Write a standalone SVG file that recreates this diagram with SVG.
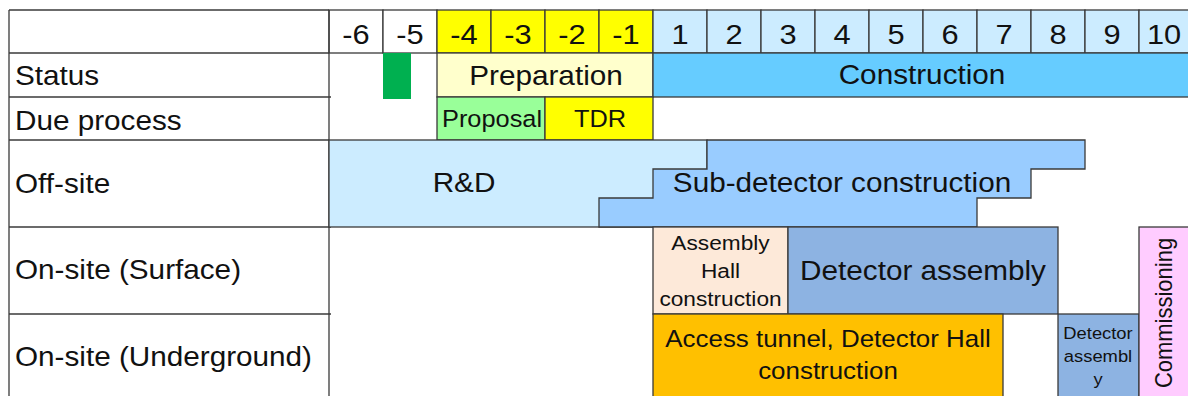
<svg xmlns="http://www.w3.org/2000/svg" width="1188" height="396" viewBox="0 0 1188 396">
  <style>
    .box { stroke: #3a3a3a; stroke-width: 1.3; }
    .line { stroke: #3a3a3a; stroke-width: 1.3; fill: none; }
    text { font-family: "Liberation Sans", Arial, sans-serif; fill: #111; }
    .big { font-size: 27.5px; }
    .hdr { font-size: 28.5px; text-anchor: middle; }
    .mid { text-anchor: middle; }
  </style>

  <rect x="0" y="0" width="1188" height="396" fill="#ffffff"/>

  <!-- header row: year columns -->
  <g id="header">
    <rect class="box" x="329" y="10" width="54" height="43" fill="#ffffff"/>
    <rect class="box" x="383" y="10" width="54" height="43" fill="#ffffff"/>
    <rect class="box" x="437" y="10" width="54" height="43" fill="#ffff00"/>
    <rect class="box" x="491" y="10" width="54" height="43" fill="#ffff00"/>
    <rect class="box" x="545" y="10" width="54" height="43" fill="#ffff00"/>
    <rect class="box" x="599" y="10" width="54" height="43" fill="#ffff00"/>
    <rect class="box" x="653" y="10" width="54" height="43" fill="#ccecff"/>
    <rect class="box" x="707" y="10" width="54" height="43" fill="#ccecff"/>
    <rect class="box" x="761" y="10" width="54" height="43" fill="#ccecff"/>
    <rect class="box" x="815" y="10" width="54" height="43" fill="#ccecff"/>
    <rect class="box" x="869" y="10" width="54" height="43" fill="#ccecff"/>
    <rect class="box" x="923" y="10" width="54" height="43" fill="#ccecff"/>
    <rect class="box" x="977" y="10" width="54" height="43" fill="#ccecff"/>
    <rect class="box" x="1031" y="10" width="54" height="43" fill="#ccecff"/>
    <rect class="box" x="1085" y="10" width="54" height="43" fill="#ccecff"/>
    <rect class="box" x="1139" y="10" width="60" height="43" fill="#ccecff"/>
    <text class="hdr" transform="translate(356,44) scale(1.08,1)">-6</text>
    <text class="hdr" transform="translate(410,44) scale(1.08,1)">-5</text>
    <text class="hdr" transform="translate(464,44) scale(1.08,1)">-4</text>
    <text class="hdr" transform="translate(518,44) scale(1.08,1)">-3</text>
    <text class="hdr" transform="translate(572,44) scale(1.08,1)">-2</text>
    <text class="hdr" transform="translate(626,44) scale(1.08,1)">-1</text>
    <text class="hdr" transform="translate(680,44) scale(1.08,1)">1</text>
    <text class="hdr" transform="translate(734,44) scale(1.08,1)">2</text>
    <text class="hdr" transform="translate(788,44) scale(1.08,1)">3</text>
    <text class="hdr" transform="translate(842,44) scale(1.08,1)">4</text>
    <text class="hdr" transform="translate(896,44) scale(1.08,1)">5</text>
    <text class="hdr" transform="translate(950,44) scale(1.08,1)">6</text>
    <text class="hdr" transform="translate(1004,44) scale(1.08,1)">7</text>
    <text class="hdr" transform="translate(1058,44) scale(1.08,1)">8</text>
    <text class="hdr" transform="translate(1112,44) scale(1.08,1)">9</text>
    <text class="hdr" transform="translate(1164,44) scale(1.08,1)">10</text>
  </g>

  <!-- row labels and table frame -->
  <g id="grid">
    <line class="line" x1="9" y1="10" x2="329" y2="10"/>
    <line class="line" x1="9" y1="10" x2="9" y2="396"/>
    <line class="line" x1="329" y1="10" x2="329" y2="396"/>
    <line class="line" x1="9" y1="53" x2="329" y2="53"/>
    <line class="line" x1="9" y1="97" x2="331" y2="97"/>
    <line class="line" x1="9" y1="140" x2="329" y2="140"/>
    <line class="line" x1="9" y1="227" x2="331" y2="227"/>
    <line class="line" x1="9" y1="314" x2="331" y2="314"/>
  </g>
  <g id="labels">
    <text class="big" transform="translate(15,85) scale(1.08,1)">Status</text>
    <text class="big" transform="translate(15,130) scale(1.08,1)">Due process</text>
    <text class="big" transform="translate(15,193) scale(1.08,1)">Off-site</text>
    <text class="big" transform="translate(15,279) scale(1.08,1)">On-site (Surface)</text>
    <text class="big" transform="translate(15,366) scale(1.08,1)">On-site (Underground)</text>
  </g>

  <!-- status row -->
  <g id="milestone">
    <rect x="383" y="53" width="28" height="46" fill="#00b050"/>
  </g>
  <g id="preparation">
    <rect class="box" x="437" y="53" width="216" height="44" fill="#ffffcc"/>
    <text class="big mid" transform="translate(546,85) scale(1.08,1)">Preparation</text>
  </g>
  <g id="construction">
    <rect class="box" x="653" y="53" width="545" height="44" fill="#66ccff"/>
    <text class="big mid" transform="translate(922,84) scale(1.08,1)">Construction</text>
  </g>

  <!-- due process row -->
  <g id="proposal">
    <rect class="box" x="437" y="97" width="108" height="43" fill="#99ff99"/>
    <text class="mid" font-size="23.5" transform="translate(492,127) scale(1.08,1)">Proposal</text>
  </g>
  <g id="tdr">
    <rect class="box" x="545" y="97" width="108" height="43" fill="#ffff00"/>
    <text class="mid" font-size="23.5" transform="translate(600,127) scale(1.08,1)">TDR</text>
  </g>

  <!-- off-site row -->
  <g id="rnd">
    <rect class="box" x="329" y="140" width="378" height="87" fill="#ccecff"/>
    <text class="big mid" transform="translate(464,192) scale(1.08,1)">R&amp;D</text>
  </g>
  <g id="subdetector">
    <polygon class="box" fill="#99ccff" points="707,140 1085,140 1085,169 1031,169 1031,198 977,198 977,227 599,227 599,198 653,198 653,169 707,169"/>
    <text class="big mid" transform="translate(842,192) scale(1.08,1)">Sub-detector construction</text>
  </g>

  <!-- on-site surface row -->
  <g id="assembly-hall">
    <rect class="box" x="653" y="227" width="135" height="87" fill="#fde9d9"/>
    <text class="mid" font-size="21" transform="translate(720.5,249.5) scale(1.08,1)">Assembly</text>
    <text class="mid" font-size="21" transform="translate(720.5,277.5) scale(1.08,1)">Hall</text>
    <text class="mid" font-size="21" transform="translate(720.5,305.5) scale(1.08,1)">construction</text>
  </g>
  <g id="detector-assembly">
    <rect class="box" x="788" y="227" width="270" height="87" fill="#8db3e2"/>
    <text class="big mid" transform="translate(923,280) scale(1.08,1)">Detector assembly</text>
  </g>

  <!-- on-site underground row -->
  <g id="access-tunnel">
    <rect class="box" x="653" y="314" width="350" height="90" fill="#ffc000"/>
    <text class="mid" font-size="24" transform="translate(828,347) scale(1.08,1)">Access tunnel, Detector Hall</text>
    <text class="mid" font-size="24" transform="translate(828,379) scale(1.08,1)">construction</text>
  </g>
  <g id="detector-assembly-underground">
    <rect class="box" x="1058" y="314" width="81" height="90" fill="#8db3e2"/>
    <text class="mid" font-size="17" transform="translate(1098,339) scale(1.08,1)">Detector</text>
    <text class="mid" font-size="17" transform="translate(1098,362) scale(1.08,1)">assembl</text>
    <text class="mid" font-size="17" transform="translate(1098,385) scale(1.08,1)">y</text>
  </g>
  <g id="commissioning">
    <rect class="box" x="1139" y="227" width="60" height="177" fill="#ffccff"/>
    <text class="mid" font-size="22" transform="translate(1171.5,313) scale(1.08,1) rotate(-90)">Commissioning</text>
  </g>
</svg>
